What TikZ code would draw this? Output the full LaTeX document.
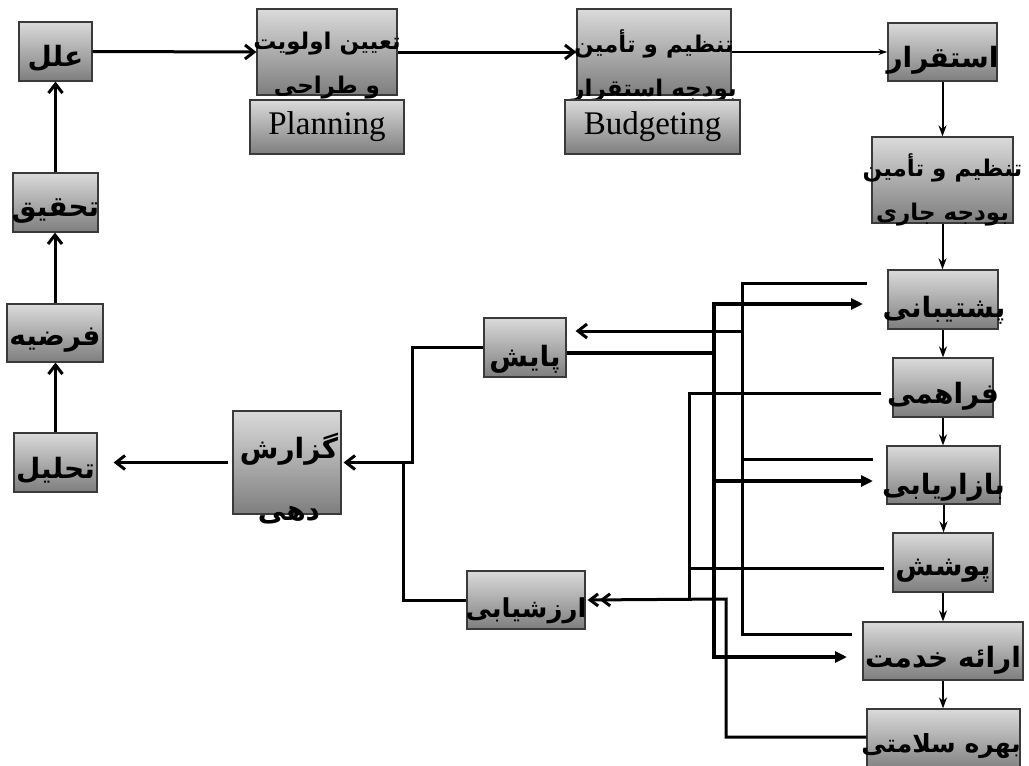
\documentclass[tikz,border=0pt]{standalone}
\usepackage{fontspec}
\usetikzlibrary{arrows.meta,calc}
\TeXXeTstate=1
\setmainfont{Liberation Serif}
\newfontfamily\arabicfont[Script=Arabic]{DejaVu Sans}
\definecolor{boxtop}{HTML}{DADADA}
\definecolor{boxbottom}{HTML}{7E7E7E}
\definecolor{boxline}{HTML}{3A3A3A}

\tikzset{
  stage/.style={draw=boxline, line width=1.2pt, top color=boxtop, bottom color=boxbottom,
    inner sep=0pt},
  fa/.style={font=\arabicfont\bfseries\fontsize{28pt}{32pt}\selectfont, inner sep=0pt, align=center},
  fasmall/.style={font=\arabicfont\bfseries\fontsize{26pt}{30pt}\selectfont, inner sep=0pt, align=center},
  fatwo/.style={font=\arabicfont\bfseries\fontsize{23pt}{44pt}\selectfont, inner sep=0pt, align=center},
  en/.style={font=\fontsize{33pt}{36pt}\selectfont, inner sep=0pt},
  link/.style={line width=3pt},
  thinlink/.style={line width=2pt},
  heavylink/.style={line width=4.8pt},
  barb/.style={-{Straight Barb[length=9pt,width=14pt]}},
  dbarb/.style={-{Straight Barb[length=8pt,width=12pt] Straight Barb[length=8pt,width=12pt]}},
  down/.style={-{Stealth[length=11pt,width=8pt]}},
  smalltip/.style={-{Stealth[length=9pt,width=6pt]}},
  fork/.style={{Triangle[length=12pt,width=11pt]}-{Triangle[length=12pt,width=11pt]}},
}

\begin{document}
\begin{tikzpicture}[x=1pt,y=-1pt]
\useasboundingbox (0,0) rectangle (1029,766);

% ---- stages ----
\node[stage, minimum width=73pt, minimum height=59pt] (illal) at (55.5,51.5) {};
\node[stage, minimum width=140pt, minimum height=86pt] (taeen) at (327,52) {};
\node[stage, minimum width=154pt, minimum height=86pt] (tanzimA) at (654,52) {};
\node[stage, minimum width=109pt, minimum height=58pt] (esteghrar) at (942.5,52) {};
\node[stage, minimum width=141pt, minimum height=86pt] (tanzimB) at (942.5,180) {};
\node[stage, minimum width=110pt, minimum height=59pt] (poshtibani) at (943,299.5) {};
\node[stage, minimum width=100pt, minimum height=59pt] (farahami) at (943,387.5) {};
\node[stage, minimum width=113pt, minimum height=58pt] (bazaryabi) at (943.5,475) {};
\node[stage, minimum width=100pt, minimum height=59pt] (pooshesh) at (943,562.5) {};
\node[stage, minimum width=160pt, minimum height=58pt] (eraeh) at (943,651) {};
\node[stage, minimum width=153pt, minimum height=62pt] (bahreh) at (943.5,740) {};
\node[stage, minimum width=82pt, minimum height=59pt] (payesh) at (525,347.5) {};
\node[stage, minimum width=118pt, minimum height=58pt] (arzeshyabi) at (526,600) {};
\node[stage, minimum width=108pt, minimum height=103pt] (gozaresh) at (287,462.5) {};
\node[stage, minimum width=83pt, minimum height=59pt] (tahlil) at (55.5,462.5) {};
\node[stage, minimum width=96pt, minimum height=58pt] (farziyeh) at (55,333) {};
\node[stage, minimum width=85pt, minimum height=59pt] (tahghigh) at (55.5,202.5) {};

% ---- labels ----
\node[fa] at (55.5,58) {\beginR علل\endR};
\node[fatwo] at (327,66) {\beginR تعیین اولویت\endR\\\beginR و طراحی\endR};
\node[fatwo] at (654,66) {\beginR تنظیم و تأمین\endR\\\beginR بودجه استقرار\endR};
\node[fa] at (942.5,60) {\beginR استقرار\endR};
\node[fatwo] at (942.5,190) {\beginR تنظیم و تأمین\endR\\\beginR بودجه جاری\endR};
\node[fa] at (944,310) {\beginR پشتیبانی\endR};
\node[fa] at (943,396) {\beginR فراهمی\endR};
\node[fa] at (943.5,487) {\beginR بازاریابی\endR};
\node[fa] at (943,571) {\beginR پوشش\endR};
\node[fa] at (943,660) {\beginR ارائه خدمت\endR};
\node[fasmall, font=\arabicfont\bfseries\fontsize{25pt}{30pt}\selectfont] at (941,746) {\beginR بهره سلامتی\endR};
\node[fa] at (525,359) {\beginR پایش\endR};
\node[fasmall] at (526,611) {\beginR ارزشیابی\endR};
\node[fa, font=\arabicfont\bfseries\fontsize{28pt}{62pt}\selectfont] at (289,479) {\beginR گزارش\endR\\\beginR دهی\endR};
\node[fa] at (55.5,470) {\beginR تحلیل\endR};
\node[fa] at (55,340) {\beginR فرضیه\endR};
\node[fa] at (55.5,211) {\beginR تحقیق\endR};

% ---- English tags, laid over the two stages above them ----
\node[stage, minimum width=154pt, minimum height=54pt] (planning) at (327,127) {};
\node[en] at (327,127) {Planning};
\node[stage, minimum width=175pt, minimum height=54pt] (budgeting) at (652.5,127) {};
\node[en] at (652.5,127) {Budgeting};

% ---- main chain ----
\draw[link,barb] (illal.east) -- (taeen.west);
\draw[link,barb] (taeen.east) -- (tanzimA.west);
\draw[thinlink,smalltip] (tanzimA.east) -- (esteghrar.west);
\draw[thinlink,down] (esteghrar.south) -- (esteghrar.south |- tanzimB.north);
\draw[thinlink,down] (tanzimB.south) -- (tanzimB.south |- poshtibani.north);
\draw[thinlink,down] (poshtibani.south) -- (poshtibani.south |- farahami.north);
\draw[thinlink,down] (farahami.south) -- (farahami.south |- bazaryabi.north);
\draw[thinlink,down] (bazaryabi.south) -- (bazaryabi.south |- pooshesh.north);
\draw[thinlink,down] (pooshesh.south) -- (pooshesh.south |- eraeh.north);
\draw[thinlink,down] (eraeh.south) -- (eraeh.south |- bahreh.north);

% ---- left column, upwards ----
\draw[link,barb] (tahlil.north) -- (tahlil.north |- farziyeh.south);
\draw[link,barb] (farziyeh.north) -- (farziyeh.north |- tahghigh.south);
\draw[link,barb] (tahghigh.north) -- (tahghigh.north |- illal.south);

% ---- reporting ----
\coordinate (jp) at (412,462.5);
\coordinate (jr) at (403,462.5);
\draw[link,barb,shorten >=2pt] (payesh.west) -| (jp) -- (gozaresh.east);
\draw[link] (arzeshyabi.west) -| (jr);
\draw[link,barb,shorten <=4pt,shorten >=16pt] (gozaresh.west) -- (tahlil.east);

% ---- feedback from the service stages to monitoring ----
\coordinate (aTop) at (867,283);
\coordinate (aMid) at (873,459);
\coordinate (aLow) at (852,634);
\coordinate (aOut) at (742,331);
\draw[link] (aTop) -- (742,283) -- (742,634) -- (aLow);
\draw[link] (aMid) -- (742,459);
\draw[link,barb,shorten >=9pt] (aOut) -- (aOut -| payesh.east);

% ---- monitoring back to the service stages ----
\coordinate (bTop) at (863,304);
\coordinate (bMid) at (873,481);
\coordinate (bLow) at (847,657);
\draw[heavylink] ($(payesh.east)+(0,5.5)$) -- (714,353);
\draw[heavylink,fork] (bTop) -- (714,304) -- (714,657) -- (bLow);
\draw[heavylink,-{Triangle[length=12pt,width=11pt]}] (714,481) -- (bMid);

% ---- outcome stages to evaluation ----
\coordinate (cTop) at (881,393);
\coordinate (cMid) at (884,568);
\coordinate (cLow) at (bahreh.west |- 0,737);
\draw[link] (cTop) -- (689,393) -- (689,599);
\draw[link] (cMid) -- (689,568);
\draw[link,dbarb,shorten >=2pt] (cLow) -- (726,737) -- (726,599) -- (arzeshyabi.east);
\end{tikzpicture}
\end{document}
